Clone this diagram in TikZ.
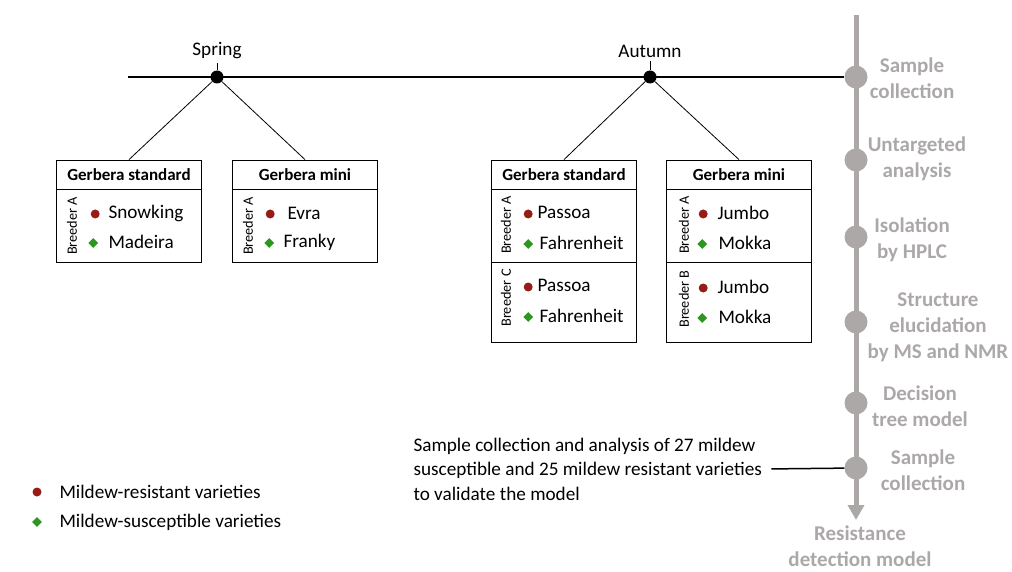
\documentclass[tikz,border=0pt]{standalone}
\usepackage{fontspec}
\setmainfont{Carlito}
\usepackage{tikz}
\usetikzlibrary{arrows.meta,shapes.geometric}

\definecolor{stepgray}{RGB}{172,168,168}
\definecolor{resred}{RGB}{150,28,22}
\definecolor{susgreen}{RGB}{44,150,30}

\newcommand{\bodyfont}{\fontsize{19.2}{24.5}\selectfont}
\newcommand{\headfont}{\fontsize{17}{20}\selectfont\bfseries}
\newcommand{\breederfont}{\fontsize{14.3}{17}\selectfont}
\newcommand{\stepfont}{\fontsize{21}{26}\selectfont\bfseries}

\tikzset{
  resdot/.style={circle,fill=resred,inner sep=0pt,minimum size=9pt},
  susdiamond/.style={diamond,fill=susgreen,inner sep=0pt,minimum size=10pt},
  tablehead/.style={draw,line width=0.8pt,minimum width=145pt,minimum height=29pt,font=\headfont},
  tablebody/.style={draw,line width=0.8pt,minimum width=145pt},
  graydot/.style={circle,fill=stepgray,inner sep=0pt,minimum size=23pt},
  steplabel/.style={align=center,text=stepgray,font=\stepfont}
}

\begin{document}
\begin{tikzpicture}[x=1pt,y=-1pt]
\useasboundingbox (0,0) rectangle (1012,572);

% process axis
\coordinate (axtop) at (856,15);
\coordinate (axend) at (856,520);
\draw[stepgray,line width=5pt,-{Triangle[width=16pt,length=15pt]}] (axtop) -- (axend);
\foreach \n/\y in {1/77,2/160,3/237,4/322,5/403,6/468}
  \node[graydot] (st\n) at (856,\y) {};

\node[steplabel] (lbl1) at (912,78) {Sample\\collection};
\node[steplabel] (lbl2) at (917,159) {Untargeted\\analysis};
\node[steplabel] (lbl3) at (912,240) {Isolation\\by HPLC};
\node[steplabel] (lbl4) at (938,327) {Structure\\elucidation\\by MS and NMR};
\node[steplabel] (lbl5) at (920,406) {Decision\\tree model};
\node[steplabel] (lbl6) at (923,470) {Sample\\collection};
\node[steplabel] (lbl7) at (860,546) {Resistance\\detection model};

% timeline
\begin{scope}[every node/.style={circle,fill=black,inner sep=0pt,minimum size=13pt}]
  \node (spring) at (217,77) {};
  \node (autumn) at (650,77) {};
\end{scope}
\coordinate (tstart) at (128,77);
\draw[line width=1.8pt] (tstart) -- (st1);

\node[font=\bodyfont] (springlbl) at (217,51) {Spring};
\node[font=\bodyfont] (autumnlbl) at (650,51) {Autumn};
\draw[line width=0.8pt] (springlbl.south) -- (spring);
\draw[line width=0.8pt] (autumnlbl.south) -- (autumn);

% tables
\node[tablehead] (h1) at (129,174.5) {Gerbera standard};
\node[tablebody,minimum height=73pt] (b1) at (129,225.5) {};
\node[tablehead] (h2) at (305,174.5) {Gerbera mini};
\node[tablebody,minimum height=73pt] (b2) at (305,225.5) {};
\node[tablehead] (h3) at (564,174.5) {Gerbera standard};
\node[tablebody,minimum height=73pt] (b3a) at (564,225.5) {};
\node[tablebody,minimum height=80pt] (b3c) at (564,302) {};
\node[tablehead] (h4) at (739,174.5) {Gerbera mini};
\node[tablebody,minimum height=73pt] (b4a) at (739,225.5) {};
\node[tablebody,minimum height=80pt] (b4b) at (739,302) {};

\draw[line width=0.8pt] (spring) -- (h1.north);
\draw[line width=0.8pt] (spring) -- (h2.north);
\draw[line width=0.8pt] (autumn) -- (h3.north);
\draw[line width=0.8pt] (autumn) -- (h4.north);

\begin{scope}[every node/.style={rotate=90,font=\breederfont}]
  \node (br1) at (72,226) {Breeder A};
  \node (br2) at (248,226) {Breeder A};
  \node (br3a) at (506,225) {Breeder A};
  \node (br3c) at (506,298) {Breeder C};
  \node (br4a) at (684,225) {Breeder A};
  \node (br4b) at (684,299) {Breeder B};
\end{scope}

\begin{scope}[every node/.style={anchor=west,font=\bodyfont}]
  \node[resdot] (m1a) at (90.5,214) {};
  \node (v1a) at (105,213) {Snowking};
  \node[susdiamond] (m1b) at (88,243) {};
  \node (v1b) at (105,242) {Madeira};
  \node[resdot] (m2a) at (265.5,214) {};
  \node (v2a) at (284,213) {Evra};
  \node[susdiamond] (m2b) at (264,243) {};
  \node (v2b) at (280,242) {Franky};
  \node[resdot] (m3a) at (523.5,214) {};
  \node (v3a) at (534,212) {Passoa};
  \node[susdiamond] (m3b) at (523,244) {};
  \node (v3b) at (536,243) {Fahrenheit};
  \node[resdot] (m3c) at (523.5,287) {};
  \node (v3c) at (534,285) {Passoa};
  \node[susdiamond] (m3d) at (523,317) {};
  \node (v3d) at (536,316) {Fahrenheit};
  \node[resdot] (m4a) at (698.5,214) {};
  \node (v4a) at (714,213) {Jumbo};
  \node[susdiamond] (m4b) at (697,244) {};
  \node (v4b) at (715,243) {Mokka};
  \node[resdot] (m4c) at (698.5,288) {};
  \node (v4c) at (714,287) {Jumbo};
  \node[susdiamond] (m4d) at (697,318) {};
  \node (v4d) at (715,317) {Mokka};
\end{scope}

% validation note
\node[anchor=west,align=left,font=\bodyfont] (note) at (410,469)
  {Sample collection and analysis of 27 mildew\\susceptible and 25 mildew resistant varieties\\to validate the model};
\draw[line width=1.5pt,shorten <=6pt] (note.east) -- (st6);

% legend
\node[resdot] (legres) at (37,492) {};
\node[anchor=west,font=\bodyfont] (legrestxt) at (56,492) {Mildew-resistant varieties};
\node[susdiamond] (legsus) at (37,522) {};
\node[anchor=west,font=\bodyfont] (legsustxt) at (56,522) {Mildew-susceptible varieties};
\end{tikzpicture}
\end{document}
